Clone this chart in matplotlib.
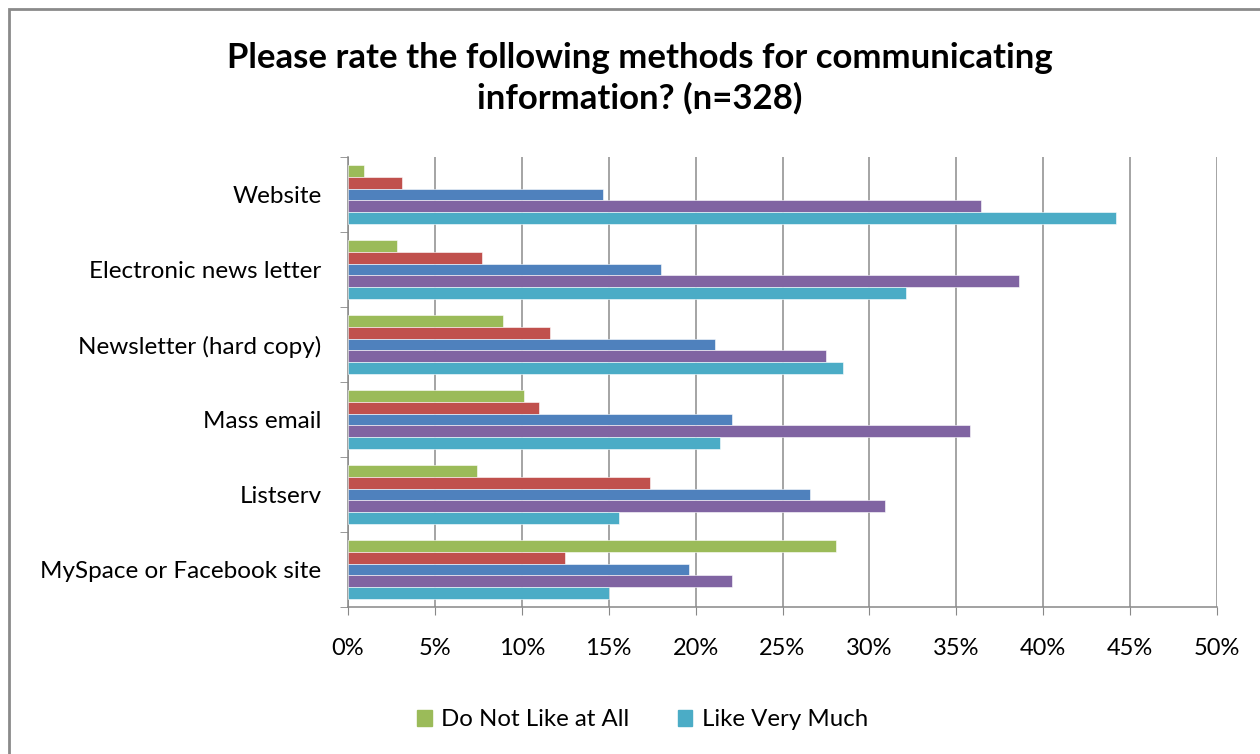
import numpy as np
import matplotlib.pyplot as plt
from matplotlib.patches import Rectangle, Patch

# data (percent)
categories = ['Website', 'Electronic news letter', 'Newsletter (hard copy)',
              'Mass email', 'Listserv', 'MySpace or Facebook site']
series_names = ['Do Not Like at All', 'Do Not Like', 'Neutral', 'Like', 'Like Very Much']
do_not_like_at_all = [0.9, 2.8, 8.9, 10.1, 7.4, 28.1]
do_not_like = [3.1, 7.7, 11.6, 11.0, 17.4, 12.5]
neutral = [14.7, 18.0, 21.1, 22.1, 26.6, 19.6]
like = [36.4, 38.6, 27.5, 35.8, 30.9, 22.1]
like_very_much = [44.2, 32.1, 28.5, 21.4, 15.6, 15.0]
colors = ['#9BBB59', '#C0504D', '#4F81BD', '#8064A2', '#4BACC6']

values = [do_not_like_at_all, do_not_like, neutral, like, like_very_much]

plt.rcParams['font.family'] = ['Lato', 'DejaVu Sans']

fig = plt.figure(figsize=(12.6, 7.54), dpi=100)
ax = fig.add_axes([348/1260, 1-607/754, (1217-348)/1260, (607-157)/754])

n = len(categories)
ypos = np.arange(n)[::-1]  # first category at top
h = 0.155
for i, (vals, c, name) in enumerate(zip(values, colors, series_names)):
    offs = (i - 2) * h
    ax.barh(ypos - offs, vals, height=h, color=c, label=name,
            edgecolor='white', linewidth=0.4, zorder=3)

ax.set_xlim(0, 50)
ax.set_ylim(-0.5, n - 0.5)
ax.set_xticks(np.arange(0, 51, 5))
ax.set_xticklabels([f'{v}%' for v in range(0, 51, 5)], fontsize=17)
ax.set_yticks(ypos)
ax.set_yticklabels(categories, fontsize=17.5)
ax.set_yticks(np.arange(-0.5, n, 1), minor=True)
ax.tick_params(axis='y', which='major', length=0, pad=19)
ax.tick_params(axis='y', which='minor', length=6, color='#888888', direction='out')
ax.tick_params(axis='x', length=6, color='#888888', pad=16)
ax.grid(axis='x', color='#8c8c8c', linewidth=1.1, zorder=0)
for s in ['top', 'right']:
    ax.spines[s].set_visible(False)
for s in ['left', 'bottom']:
    ax.spines[s].set_color('#888888')
    ax.spines[s].set_linewidth(1.1)

fig.text(0.508, 1-78/754,
         'Please rate the following methods for communicating\ninformation? (n=328)',
         ha='center', va='center', fontsize=25, fontweight='bold', linespacing=1.3)

handles = [Patch(color=colors[0]), Patch(color=colors[4])]
fig.legend(handles, [series_names[0], series_names[4]], loc='center',
           bbox_to_anchor=(0.51, 1-720/754), ncol=2, frameon=False,
           fontsize=17.3, handlelength=0.6, handleheight=0.6, handletextpad=0.4,
           columnspacing=2.0)

# outer chart frame
fig.patches.append(Rectangle((9/1260, -0.05), 1.1, 1-9/754 + 0.05,
                             transform=fig.transFigure, fill=False,
                             edgecolor='#8a8a8a', linewidth=2))

fig.savefig('out.png', dpi=100)
